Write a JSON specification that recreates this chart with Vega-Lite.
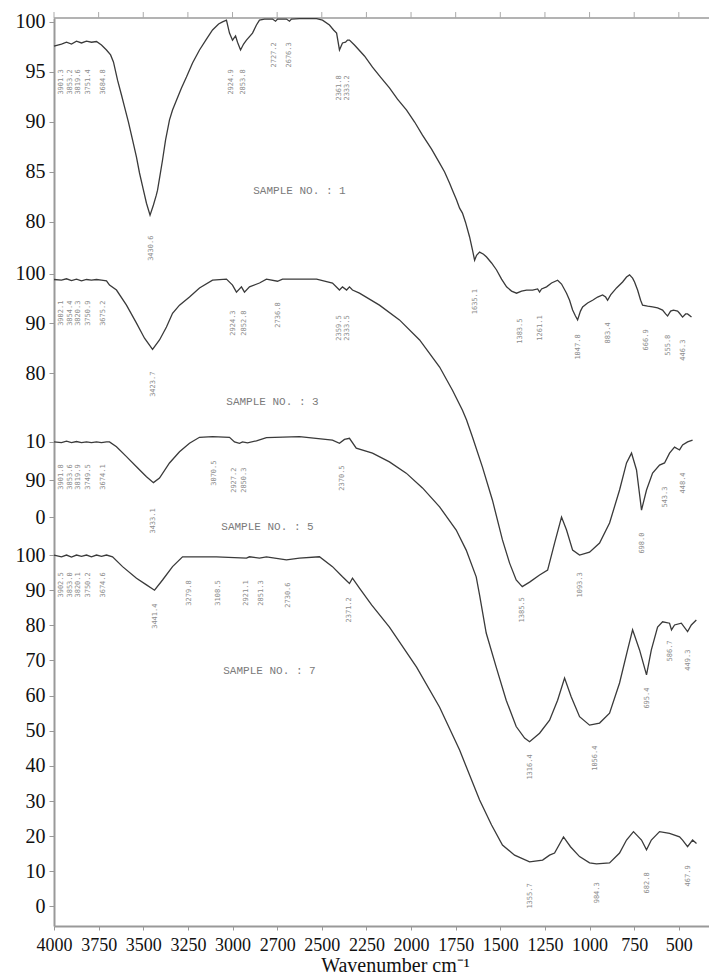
{
"$schema": "https://vega.github.io/schema/vega-lite/v6.json",
"width": 655, "height": 908,
"autosize": {"type": "none"},
"padding": {"left": 54, "top": 18, "right": 0, "bottom": 48},
"background": "white",
"config": {"view": {"stroke": null}},
"datasets": {
"spec": [
{"s":"1","w":4000,"T":244.8},{"s":"1","w":3958,"T":245.4},{"s":"1","w":3930,"T":245.9},{"s":"1","w":3902,"T":245.4},{"s":"1","w":3874,"T":246.2},{"s":"1","w":3846,"T":245.7},{"s":"1","w":3818,"T":246.2},{"s":"1","w":3790,"T":245.9},{"s":"1","w":3762,"T":246.1},{"s":"1","w":3734,"T":245.1},{"s":"1","w":3706,"T":243.7},{"s":"1","w":3683,"T":242.3},{"s":"1","w":3667,"T":240.3},{"s":"1","w":3644,"T":235.1},{"s":"1","w":3622,"T":230.9},{"s":"1","w":3605,"T":227.5},{"s":"1","w":3583,"T":223.2},{"s":"1","w":3560,"T":218.1},{"s":"1","w":3538,"T":213.2},{"s":"1","w":3521,"T":208.7},{"s":"1","w":3499,"T":203.8},{"s":"1","w":3482,"T":200.1},{"s":"1","w":3462,"T":196.7},{"s":"1","w":3443,"T":199.6},{"s":"1","w":3427,"T":202.4},{"s":"1","w":3420,"T":203.8},{"s":"1","w":3406,"T":208.1},{"s":"1","w":3392,"T":212.4},{"s":"1","w":3375,"T":218.1},{"s":"1","w":3353,"T":223.8},{"s":"1","w":3336,"T":226.6},{"s":"1","w":3314,"T":229.4},{"s":"1","w":3286,"T":232.9},{"s":"1","w":3258,"T":236.0},{"s":"1","w":3224,"T":240.0},{"s":"1","w":3185,"T":243.7},{"s":"1","w":3146,"T":246.8},{"s":"1","w":3112,"T":249.4},{"s":"1","w":3078,"T":251.1},{"s":"1","w":3056,"T":251.7},{"s":"1","w":3034,"T":252.2},{"s":"1","w":3017,"T":248.5},{"s":"1","w":3000,"T":246.5},{"s":"1","w":2983,"T":247.7},{"s":"1","w":2972,"T":245.9},{"s":"1","w":2955,"T":243.7},{"s":"1","w":2938,"T":245.4},{"s":"1","w":2922,"T":246.5},{"s":"1","w":2888,"T":248.5},{"s":"1","w":2866,"T":250.8},{"s":"1","w":2849,"T":252.2},{"s":"1","w":2821,"T":252.5},{"s":"1","w":2776,"T":252.5},{"s":"1","w":2759,"T":251.9},{"s":"1","w":2748,"T":252.5},{"s":"1","w":2698,"T":252.5},{"s":"1","w":2681,"T":251.9},{"s":"1","w":2670,"T":252.5},{"s":"1","w":2625,"T":252.6},{"s":"1","w":2529,"T":252.6},{"s":"1","w":2496,"T":252.2},{"s":"1","w":2457,"T":250.8},{"s":"1","w":2434,"T":249.4},{"s":"1","w":2417,"T":248.5},{"s":"1","w":2401,"T":243.7},{"s":"1","w":2384,"T":245.7},{"s":"1","w":2367,"T":245.9},{"s":"1","w":2356,"T":246.5},{"s":"1","w":2345,"T":246.5},{"s":"1","w":2317,"T":245.1},{"s":"1","w":2261,"T":242.0},{"s":"1","w":2216,"T":238.8},{"s":"1","w":2171,"T":236.0},{"s":"1","w":2121,"T":232.9},{"s":"1","w":2076,"T":229.7},{"s":"1","w":2025,"T":226.6},{"s":"1","w":1980,"T":223.2},{"s":"1","w":1936,"T":219.5},{"s":"1","w":1885,"T":215.5},{"s":"1","w":1840,"T":211.5},{"s":"1","w":1812,"T":209.0},{"s":"1","w":1784,"T":205.8},{"s":"1","w":1768,"T":203.8},{"s":"1","w":1745,"T":201.0},{"s":"1","w":1728,"T":198.7},{"s":"1","w":1712,"T":197.3},{"s":"1","w":1695,"T":194.7},{"s":"1","w":1672,"T":190.5},{"s":"1","w":1656,"T":186.8},{"s":"1","w":1644,"T":183.9},{"s":"1","w":1633,"T":185.3},{"s":"1","w":1616,"T":186.2},{"s":"1","w":1594,"T":185.6},{"s":"1","w":1577,"T":184.8},{"s":"1","w":1549,"T":183.1},{"s":"1","w":1521,"T":181.1},{"s":"1","w":1493,"T":178.5},{"s":"1","w":1465,"T":176.3},{"s":"1","w":1437,"T":175.1},{"s":"1","w":1409,"T":174.5},{"s":"1","w":1381,"T":175.1},{"s":"1","w":1353,"T":175.4},{"s":"1","w":1319,"T":175.4},{"s":"1","w":1291,"T":175.7},{"s":"1","w":1280,"T":174.8},{"s":"1","w":1269,"T":175.7},{"s":"1","w":1241,"T":176.3},{"s":"1","w":1213,"T":177.4},{"s":"1","w":1179,"T":178.2},{"s":"1","w":1157,"T":177.1},{"s":"1","w":1129,"T":174.5},{"s":"1","w":1112,"T":172.5},{"s":"1","w":1095,"T":169.7},{"s":"1","w":1079,"T":168.0},{"s":"1","w":1067,"T":166.9},{"s":"1","w":1051,"T":169.4},{"s":"1","w":1039,"T":170.6},{"s":"1","w":1011,"T":171.7},{"s":"1","w":983,"T":172.5},{"s":"1","w":955,"T":173.4},{"s":"1","w":927,"T":174.0},{"s":"1","w":910,"T":173.4},{"s":"1","w":899,"T":172.5},{"s":"1","w":882,"T":174.0},{"s":"1","w":849,"T":176.0},{"s":"1","w":815,"T":177.7},{"s":"1","w":793,"T":179.1},{"s":"1","w":776,"T":179.7},{"s":"1","w":759,"T":178.8},{"s":"1","w":748,"T":177.7},{"s":"1","w":731,"T":175.4},{"s":"1","w":714,"T":172.5},{"s":"1","w":703,"T":171.1},{"s":"1","w":675,"T":170.8},{"s":"1","w":647,"T":170.6},{"s":"1","w":619,"T":170.3},{"s":"1","w":591,"T":169.7},{"s":"1","w":574,"T":168.6},{"s":"1","w":563,"T":168.0},{"s":"1","w":546,"T":169.4},{"s":"1","w":530,"T":169.7},{"s":"1","w":507,"T":169.4},{"s":"1","w":496,"T":168.8},{"s":"1","w":479,"T":167.7},{"s":"1","w":462,"T":168.6},{"s":"1","w":451,"T":168.6},{"s":"1","w":429,"T":167.7},
{"s":"3","w":4000,"T":178.4},{"s":"3","w":3958,"T":178.2},{"s":"3","w":3930,"T":178.6},{"s":"3","w":3902,"T":178.1},{"s":"3","w":3874,"T":178.5},{"s":"3","w":3846,"T":178.0},{"s":"3","w":3818,"T":178.4},{"s":"3","w":3790,"T":178.2},{"s":"3","w":3762,"T":178.4},{"s":"3","w":3734,"T":178.2},{"s":"3","w":3706,"T":178.0},{"s":"3","w":3689,"T":176.8},{"s":"3","w":3650,"T":175.4},{"s":"3","w":3594,"T":171.1},{"s":"3","w":3538,"T":166.0},{"s":"3","w":3493,"T":161.7},{"s":"3","w":3448,"T":158.5},{"s":"3","w":3409,"T":161.2},{"s":"3","w":3370,"T":164.9},{"s":"3","w":3336,"T":168.8},{"s":"3","w":3297,"T":171.1},{"s":"3","w":3241,"T":173.4},{"s":"3","w":3185,"T":176.0},{"s":"3","w":3112,"T":178.2},{"s":"3","w":3034,"T":178.5},{"s":"3","w":3000,"T":176.8},{"s":"3","w":2978,"T":174.8},{"s":"3","w":2950,"T":176.3},{"s":"3","w":2933,"T":174.8},{"s":"3","w":2905,"T":176.3},{"s":"3","w":2849,"T":177.4},{"s":"3","w":2810,"T":178.5},{"s":"3","w":2748,"T":177.9},{"s":"3","w":2720,"T":178.5},{"s":"3","w":2529,"T":178.5},{"s":"3","w":2440,"T":177.4},{"s":"3","w":2401,"T":175.4},{"s":"3","w":2384,"T":176.3},{"s":"3","w":2361,"T":175.4},{"s":"3","w":2345,"T":176.3},{"s":"3","w":2328,"T":175.4},{"s":"3","w":2289,"T":174.5},{"s":"3","w":2177,"T":171.1},{"s":"3","w":2065,"T":166.9},{"s":"3","w":1952,"T":161.2},{"s":"3","w":1840,"T":153.5},{"s":"3","w":1768,"T":146.9},{"s":"3","w":1712,"T":141.2},{"s":"3","w":1689,"T":138.4},{"s":"3","w":1656,"T":133.6},{"s":"3","w":1600,"T":125.0},{"s":"3","w":1544,"T":115.6},{"s":"3","w":1488,"T":104.3},{"s":"3","w":1448,"T":97.7},{"s":"3","w":1411,"T":92.9},{"s":"3","w":1377,"T":91.0},{"s":"3","w":1336,"T":92.3},{"s":"3","w":1280,"T":94.3},{"s":"3","w":1235,"T":95.7},{"s":"3","w":1196,"T":103.4},{"s":"3","w":1157,"T":110.8},{"s":"3","w":1129,"T":107.1},{"s":"3","w":1095,"T":101.4},{"s":"3","w":1056,"T":100.0},{"s":"3","w":1000,"T":100.8},{"s":"3","w":944,"T":103.4},{"s":"3","w":888,"T":109.1},{"s":"3","w":832,"T":118.5},{"s":"3","w":793,"T":126.2},{"s":"3","w":765,"T":129.0},{"s":"3","w":737,"T":124.2},{"s":"3","w":709,"T":112.8},{"s":"3","w":681,"T":118.5},{"s":"3","w":647,"T":123.3},{"s":"3","w":608,"T":125.6},{"s":"3","w":580,"T":126.2},{"s":"3","w":552,"T":129.0},{"s":"3","w":524,"T":130.7},{"s":"3","w":496,"T":129.9},{"s":"3","w":479,"T":131.3},{"s":"3","w":451,"T":132.2},{"s":"3","w":423,"T":132.7},
{"s":"5","w":4000,"T":132.2},{"s":"5","w":3958,"T":132.0},{"s":"5","w":3930,"T":132.4},{"s":"5","w":3902,"T":132.0},{"s":"5","w":3874,"T":132.3},{"s":"5","w":3846,"T":132.0},{"s":"5","w":3818,"T":132.2},{"s":"5","w":3790,"T":132.0},{"s":"5","w":3762,"T":132.2},{"s":"5","w":3734,"T":132.0},{"s":"5","w":3706,"T":132.2},{"s":"5","w":3689,"T":132.2},{"s":"5","w":3650,"T":130.8},{"s":"5","w":3594,"T":128.0},{"s":"5","w":3538,"T":125.1},{"s":"5","w":3482,"T":122.3},{"s":"5","w":3443,"T":120.6},{"s":"5","w":3409,"T":121.9},{"s":"5","w":3353,"T":126.2},{"s":"5","w":3297,"T":129.4},{"s":"5","w":3241,"T":131.8},{"s":"5","w":3185,"T":133.5},{"s":"5","w":3112,"T":133.7},{"s":"5","w":3017,"T":133.5},{"s":"5","w":2989,"T":132.2},{"s":"5","w":2961,"T":131.8},{"s":"5","w":2944,"T":132.2},{"s":"5","w":2916,"T":131.9},{"s":"5","w":2866,"T":132.5},{"s":"5","w":2810,"T":133.4},{"s":"5","w":2625,"T":133.7},{"s":"5","w":2440,"T":132.7},{"s":"5","w":2401,"T":131.8},{"s":"5","w":2373,"T":132.9},{"s":"5","w":2345,"T":133.2},{"s":"5","w":2307,"T":130.4},{"s":"5","w":2216,"T":129.0},{"s":"5","w":2121,"T":126.5},{"s":"5","w":2027,"T":123.3},{"s":"5","w":1936,"T":119.1},{"s":"5","w":1840,"T":113.7},{"s":"5","w":1747,"T":107.1},{"s":"5","w":1691,"T":101.4},{"s":"5","w":1635,"T":93.8},{"s":"5","w":1616,"T":88.6},{"s":"5","w":1579,"T":77.8},{"s":"5","w":1523,"T":68.1},{"s":"5","w":1467,"T":58.7},{"s":"5","w":1411,"T":51.2},{"s":"5","w":1364,"T":47.9},{"s":"5","w":1336,"T":46.9},{"s":"5","w":1280,"T":49.3},{"s":"5","w":1224,"T":53.0},{"s":"5","w":1179,"T":58.7},{"s":"5","w":1140,"T":65.0},{"s":"5","w":1103,"T":59.7},{"s":"5","w":1056,"T":54.0},{"s":"5","w":1000,"T":51.6},{"s":"5","w":944,"T":52.2},{"s":"5","w":888,"T":55.0},{"s":"5","w":832,"T":63.6},{"s":"5","w":787,"T":73.0},{"s":"5","w":759,"T":78.7},{"s":"5","w":720,"T":73.0},{"s":"5","w":681,"T":65.9},{"s":"5","w":654,"T":73.0},{"s":"5","w":619,"T":79.5},{"s":"5","w":591,"T":81.0},{"s":"5","w":552,"T":80.6},{"s":"5","w":541,"T":78.7},{"s":"5","w":524,"T":80.1},{"s":"5","w":486,"T":80.6},{"s":"5","w":451,"T":78.2},{"s":"5","w":430,"T":80.1},{"s":"5","w":402,"T":81.5},
{"s":"7","w":4000,"T":100.0},{"s":"7","w":3958,"T":99.5},{"s":"7","w":3930,"T":100.0},{"s":"7","w":3902,"T":99.4},{"s":"7","w":3874,"T":100.0},{"s":"7","w":3846,"T":99.6},{"s":"7","w":3818,"T":100.0},{"s":"7","w":3790,"T":99.5},{"s":"7","w":3762,"T":100.0},{"s":"7","w":3734,"T":99.6},{"s":"7","w":3706,"T":100.0},{"s":"7","w":3672,"T":99.5},{"s":"7","w":3616,"T":96.7},{"s":"7","w":3538,"T":93.4},{"s":"7","w":3482,"T":91.5},{"s":"7","w":3437,"T":90.0},{"s":"7","w":3392,"T":92.9},{"s":"7","w":3336,"T":96.7},{"s":"7","w":3280,"T":99.5},{"s":"7","w":3090,"T":99.5},{"s":"7","w":2922,"T":99.1},{"s":"7","w":2905,"T":99.5},{"s":"7","w":2849,"T":99.1},{"s":"7","w":2810,"T":99.5},{"s":"7","w":2698,"T":98.6},{"s":"7","w":2625,"T":99.1},{"s":"7","w":2513,"T":99.5},{"s":"7","w":2440,"T":96.7},{"s":"7","w":2384,"T":93.8},{"s":"7","w":2345,"T":91.9},{"s":"7","w":2328,"T":93.4},{"s":"7","w":2289,"T":90.6},{"s":"7","w":2221,"T":85.8},{"s":"7","w":2121,"T":79.5},{"s":"7","w":1969,"T":68.1},{"s":"7","w":1840,"T":56.7},{"s":"7","w":1728,"T":44.5},{"s":"7","w":1616,"T":30.3},{"s":"7","w":1549,"T":23.2},{"s":"7","w":1488,"T":17.5},{"s":"7","w":1420,"T":14.6},{"s":"7","w":1336,"T":12.7},{"s":"7","w":1263,"T":13.2},{"s":"7","w":1224,"T":14.6},{"s":"7","w":1196,"T":15.2},{"s":"7","w":1146,"T":19.8},{"s":"7","w":1107,"T":17.0},{"s":"7","w":1056,"T":14.2},{"s":"7","w":1000,"T":12.4},{"s":"7","w":961,"T":12.1},{"s":"7","w":888,"T":12.4},{"s":"7","w":832,"T":15.2},{"s":"7","w":793,"T":18.9},{"s":"7","w":754,"T":21.3},{"s":"7","w":709,"T":18.9},{"s":"7","w":681,"T":16.1},{"s":"7","w":654,"T":18.9},{"s":"7","w":608,"T":21.3},{"s":"7","w":552,"T":20.8},{"s":"7","w":496,"T":19.8},{"s":"7","w":479,"T":18.9},{"s":"7","w":451,"T":17.0},{"s":"7","w":423,"T":18.9},{"s":"7","w":401,"T":17.9}
],
"peaks": [
{"w":3456,"T":187.3,"t":"3430.6"},{"w":3006,"T":234.6,"t":"2924.9"},{"w":2944,"T":234.6,"t":"2853.8"},{"w":2765,"T":242.3,"t":"2727.2"},{"w":2681,"T":242.3,"t":"2676.3"},{"w":2401,"T":232.9,"t":"2361.8"},{"w":2361,"T":232.9,"t":"2333.2"},{"w":1639,"T":172.1,"t":"1635.1"},{"w":1392,"T":163.7,"t":"1383.5"},{"w":1280,"T":164.6,"t":"1261.1"},{"w":1067,"T":159.2,"t":"1047.8"},{"w":899,"T":163.2,"t":"883.4"},{"w":686,"T":161.2,"t":"666.9"},{"w":563,"T":159.7,"t":"555.8"},{"w":479,"T":158.3,"t":"446.3"},
{"w":3958,"T":234.6,"t":"3901.3"},{"w":3913,"T":234.6,"t":"3853.2"},{"w":3868,"T":234.6,"t":"3819.6"},{"w":3812,"T":234.6,"t":"3751.4"},{"w":3723,"T":234.6,"t":"3684.8"},
{"w":3448,"T":148.6,"t":"3423.7"},{"w":3000,"T":166.0,"t":"2924.3"},{"w":2933,"T":166.0,"t":"2852.8"},{"w":2748,"T":168.3,"t":"2736.8"},{"w":2401,"T":164.6,"t":"2359.5"},{"w":2361,"T":164.6,"t":"2333.5"},{"w":1377,"T":84.4,"t":"1385.5"},{"w":1056,"T":91.5,"t":"1093.3"},{"w":709,"T":103.4,"t":"698.0"},{"w":580,"T":116.5,"t":"543.3"},{"w":479,"T":120.5,"t":"448.4"},
{"w":3958,"T":168.8,"t":"3902.1"},{"w":3913,"T":168.8,"t":"3854.4"},{"w":3868,"T":168.8,"t":"3820.3"},{"w":3812,"T":168.8,"t":"3750.9"},{"w":3723,"T":168.8,"t":"3675.2"},
{"w":3443,"T":109.7,"t":"3433.1"},{"w":3101,"T":123.3,"t":"3070.5"},{"w":2989,"T":121.3,"t":"2927.2"},{"w":2933,"T":121.3,"t":"2850.3"},{"w":2384,"T":121.9,"t":"2370.5"},{"w":1336,"T":39.7,"t":"1316.4"},{"w":972,"T":42.2,"t":"1056.4"},{"w":681,"T":59.3,"t":"695.4"},{"w":552,"T":72.7,"t":"586.7"},{"w":451,"T":70.1,"t":"449.3"},
{"w":3958,"T":122.2,"t":"3901.8"},{"w":3913,"T":122.2,"t":"3853.6"},{"w":3868,"T":122.2,"t":"3819.9"},{"w":3812,"T":122.2,"t":"3749.5"},{"w":3723,"T":122.2,"t":"3674.1"},
{"w":3437,"T":82.6,"t":"3441.4"},{"w":3241,"T":89.2,"t":"3279.8"},{"w":3084,"T":89.2,"t":"3108.5"},{"w":2922,"T":89.2,"t":"2921.1"},{"w":2838,"T":89.2,"t":"2851.3"},{"w":2692,"T":88.6,"t":"2730.6"},{"w":2345,"T":84.4,"t":"2371.2"},{"w":1336,"T":3.0,"t":"1355.7"},{"w":961,"T":3.9,"t":"984.3"},{"w":681,"T":6.7,"t":"682.8"},{"w":451,"T":8.7,"t":"467.9"},
{"w":3958,"T":91.5,"t":"3902.5"},{"w":3913,"T":91.5,"t":"3853.0"},{"w":3868,"T":91.5,"t":"3820.1"},{"w":3812,"T":91.5,"t":"3750.2"},{"w":3723,"T":91.5,"t":"3674.6"}
],
"samples": [
{"w":2625,"T":203.6,"t":"SAMPLE NO. : 1"},
{"w":2776,"T":143.5,"t":"SAMPLE NO. : 3"},
{"w":2804,"T":108.0,"t":"SAMPLE NO. : 5"},
{"w":2793,"T":67.0,"t":"SAMPLE NO. : 7"}
],
"topticks": [{"w":4000},{"w":3750},{"w":3500},{"w":3250},{"w":3000},{"w":2750},{"w":2500},{"w":2250},{"w":2000},{"w":1750},{"w":1500},{"w":1250},{"w":1000},{"w":750},{"w":500}]
},
"layer": [
{
"data": {"values": [{}]},
"mark": {"type": "rule", "color": "#9a9a9a", "strokeWidth": 1.5, "clip": false},
"encoding": {
"x": {"datum": 4000, "type": "quantitative", "scale": {"domain": [4000, 331], "nice": false, "zero": false}},
"x2": {"datum": 331},
"y": {"datum": 252.8, "type": "quantitative", "scale": {"domain": [-5.55, 252.8], "nice": false, "zero": false}}
}
},
{
"data": {"name": "topticks"},
"mark": {"type": "rule", "color": "#aaaaaa", "strokeWidth": 1, "clip": false},
"encoding": {
"x": {"field": "w", "type": "quantitative", "scale": {"domain": [4000, 331], "nice": false, "zero": false}},
"y": {"datum": 252.8, "type": "quantitative", "scale": {"domain": [-5.55, 252.8], "nice": false, "zero": false}},
"y2": {"datum": 254.5}
}
},
{
"data": {"name": "peaks"},
"mark": {"type": "text", "angle": 270, "fontSize": 7, "font": "DejaVu Sans Mono", "color": "#8c8c8c"},
"encoding": {
"x": {"field": "w", "type": "quantitative", "scale": {"domain": [4000, 331], "nice": false, "zero": false}},
"y": {"field": "T", "type": "quantitative", "scale": {"domain": [-5.55, 252.8], "nice": false, "zero": false}},
"text": {"field": "t"}
}
},
{
"data": {"name": "samples"},
"mark": {"type": "text", "fontSize": 11, "font": "Liberation Mono", "color": "#7a7a7a"},
"encoding": {
"x": {"field": "w", "type": "quantitative", "scale": {"domain": [4000, 331], "nice": false, "zero": false}},
"y": {"field": "T", "type": "quantitative", "scale": {"domain": [-5.55, 252.8], "nice": false, "zero": false}},
"text": {"field": "t"}
}
},
{
"data": {"name": "spec"},
"mark": {"type": "line", "color": "#3a3a3a", "strokeWidth": 1.3},
"encoding": {
"x": {"field": "w", "type": "quantitative", "scale": {"domain": [4000, 331], "nice": false, "zero": false},
"axis": {"orient": "bottom", "values": [4000,3750,3500,3250,3000,2750,2500,2250,2000,1750,1500,1250,1000,750,500], "format": "d", "labelExpr": "datum.value == 2750 ? '2700' : datum.label", "labelFont": "Liberation Serif", "labelFontSize": 18, "labelColor": "#111", "labelFlush": false, "labelOverlap": false, "labelPadding": 6, "grid": false, "domainColor": "#999", "domainWidth": 2, "tickColor": "#999", "tickSize": 4, "title": "Wavenumber cm⁻¹", "titleFont": "Liberation Serif", "titleFontSize": 20, "titleFontWeight": "normal", "titleColor": "#111", "titleX": 341, "titleY": 45, "titleBaseline": "alphabetic"}},
"y": {"field": "T", "type": "quantitative", "scale": {"domain": [-5.55, 252.8], "nice": false, "zero": false},
"axis": {"orient": "left", "values": [251.7,237.5,223.3,209.0,194.8,180.1,165.9,151.7,132.2,121.3,110.7,100,90,80,70,60,50,40,30,20,10,0], "labelExpr": "datum.value <= 100.5 ? format(datum.value, 'd') : (datum.value > 250 ? '100' : datum.value > 230 ? '95' : datum.value > 215 ? '90' : datum.value > 200 ? '85' : datum.value > 187 ? '80' : datum.value > 173 ? '100' : datum.value > 158 ? '90' : datum.value > 140 ? '80' : datum.value > 127 ? '10' : datum.value > 115 ? '90' : '0')", "labelFont": "Liberation Serif", "labelFontSize": 20, "labelColor": "#111", "labelFlush": false, "labelOverlap": false, "labelPadding": 4, "grid": false, "domainColor": "#999", "domainWidth": 2, "tickColor": "#999", "tickSize": 5, "title": null}},
"detail": {"field": "s"}
}
}
]
}
